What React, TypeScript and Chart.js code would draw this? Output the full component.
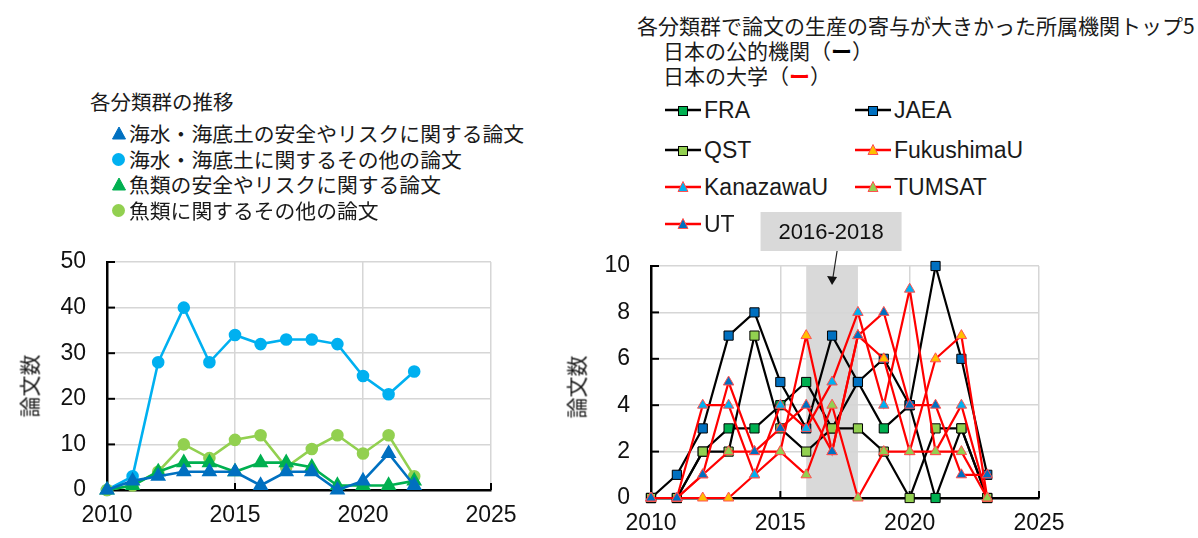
import React, { useEffect, useRef } from 'react';
import { Chart, registerables } from 'chart.js';

Chart.register(...registerables);

// ---------- Left chart data ----------
const years = [2010, 2011, 2012, 2013, 2014, 2015, 2016, 2017, 2018, 2019, 2020, 2021, 2022];
const seaRisk = [0, 2, 3, 4, 4, 4, 1, 4, 4, 0, 2, 8, 1];
const seaOther = [0, 3, 28, 40, 28, 34, 32, 33, 33, 32, 25, 21, 26];
const fishRisk = [0, 1, 4, 6, 6, 4, 6, 6, 5, 1, 1, 1, 2];
const fishOther = [0, 1, 4, 10, 7, 11, 12, 5, 9, 12, 8, 12, 3];
const leftLabels = [
  '海水・海底土の安全やリスクに関する論文',
  '海水・海底土に関するその他の論文',
  '魚類の安全やリスクに関する論文',
  '魚類に関するその他の論文',
];

// ---------- Right chart data ----------
const instYears = [2010, 2011, 2012, 2013, 2014, 2015, 2016, 2017, 2018, 2019, 2020, 2021, 2022, 2023];
const FRA = [0, 0, 2, 3, 3, 4, 5, 3, 5, 3, 4, 0, 3, 0];
const JAEA = [0, 1, 3, 7, 8, 5, 3, 7, 5, 6, 4, 10, 6, 1];
const QST = [0, 0, 2, 2, 7, 3, 2, 3, 3, 2, 0, 3, 3, 0];
const FukushimaU = [0, 0, 0, 0, 1, 2, 7, 2, 7, 6, 2, 6, 7, 0];
const KanazawaU = [0, 0, 4, 4, 1, 4, 3, 5, 8, 4, 9, 2, 4, 0];
const TUMSAT = [0, 0, 1, 2, 2, 2, 1, 4, 0, 2, 2, 2, 2, 0];
const UT = [0, 0, 1, 5, 2, 3, 4, 2, 7, 8, 4, 4, 1, 1];
const bandRange = [2016, 2018];
const bandLabel = '2016-2018';

const xTickValues = [2010, 2015, 2020, 2025];
const leftYMax = 50;
const rightYMax = 10;

const LATIN = "'Liberation Sans', Arial, sans-serif";
const CJK = "'Noto Sans CJK JP', 'Noto Sans', sans-serif";

const pts = (xs: number[], ys: number[]) => xs.map((x, i) => ({ x, y: ys[i] }));

const innerTicks = {
  id: 'innerTicks',
  beforeDatasetsDraw(chart: any) {
    const { ctx, chartArea, scales } = chart;
    ctx.save();
    ctx.strokeStyle = '#000';
    ctx.lineWidth = 2;
    scales.y.ticks.forEach((t: any) => {
      const y = scales.y.getPixelForValue(t.value);
      ctx.beginPath();
      ctx.moveTo(chartArea.left, y);
      ctx.lineTo(chartArea.left + 8, y);
      ctx.stroke();
    });
    scales.x.ticks.forEach((t: any) => {
      const x = scales.x.getPixelForValue(t.value);
      ctx.beginPath();
      ctx.moveTo(x, chartArea.bottom - 7);
      ctx.lineTo(x, chartArea.bottom);
      ctx.stroke();
    });
    ctx.restore();
  },
};

const bandPlugin = {
  id: 'band',
  beforeDraw(chart: any) {
    const { ctx, chartArea, scales } = chart;
    const x0 = scales.x.getPixelForValue(bandRange[0]);
    const x1 = scales.x.getPixelForValue(bandRange[1]);
    ctx.save();
    ctx.fillStyle = '#D9D9D9';
    ctx.fillRect(x0, chartArea.top, x1 - x0, chartArea.bottom - chartArea.top);
    ctx.restore();
  },
  afterDraw(chart: any) {
    const { ctx, chartArea, scales } = chart;
    const cx = scales.x.getPixelForValue((bandRange[0] + bandRange[1]) / 2);
    const bw = 141, bh = 39, by = 12;
    ctx.save();
    ctx.fillStyle = '#D9D9D9';
    ctx.fillRect(cx - bw / 2 - 1, by, bw, bh);
    ctx.fillStyle = '#111';
    ctx.font = `22px ${LATIN}`;
    ctx.textAlign = 'center';
    ctx.textBaseline = 'middle';
    ctx.fillText(bandLabel, cx - 1, by + bh / 2 + 1);
    const tipY = chartArea.top + 19;
    ctx.strokeStyle = '#222';
    ctx.lineWidth = 1.2;
    ctx.beginPath();
    ctx.moveTo(cx + 5, by + bh);
    ctx.lineTo(cx + 0.8, tipY - 7);
    ctx.stroke();
    ctx.fillStyle = '#111';
    ctx.beginPath();
    ctx.moveTo(cx - 5, tipY - 9);
    ctx.lineTo(cx + 5, tipY - 8);
    ctx.lineTo(cx, tipY);
    ctx.closePath();
    ctx.fill();
    ctx.restore();
  },
};

function baseScales(yMax: number, yStep: number, yWidth: number, xHeight: number, yPad: number) {
  return {
    x: {
      type: 'linear',
      min: 2010,
      max: 2025,
      afterBuildTicks: (s: any) => {
        s.ticks = xTickValues.map((v) => ({ value: v }));
      },
      ticks: {
        color: '#111',
        font: { family: LATIN, size: 23 },
        padding: 12,
        callback: (v: any) => String(v),
      },
      grid: { color: '#D6D6D6', lineWidth: 1.5, drawTicks: false },
      border: { color: '#000', width: 2.5 },
      afterFit: (s: any) => {
        s.height = xHeight;
      },
    },
    y: {
      min: 0,
      max: yMax,
      ticks: {
        stepSize: yStep,
        color: '#111',
        font: { family: LATIN, size: 23 },
        padding: yPad,
      },
      grid: { color: '#D6D6D6', lineWidth: 1.5, drawTicks: false },
      border: { color: '#000', width: 2.5 },
      afterFit: (s: any) => {
        s.width = yWidth;
      },
    },
  };
}

function TriangleIcon({ fill, size = 14 }: { fill: string; size?: number }) {
  return (
    <svg width={size} height={size} viewBox="0 0 14 14" style={{ display: 'block' }}>
      <polygon points="7,1 13.5,13 0.5,13" fill={fill} stroke={fill} strokeWidth={1} />
    </svg>
  );
}

function LegendLine({ lineColor, marker, fill, stroke }: { lineColor: string; marker: 'square' | 'triangle'; fill: string; stroke: string }) {
  return (
    <svg width={36} height={16} viewBox="0 0 36 16" style={{ display: 'block' }}>
      <line x1={0} y1={8} x2={36} y2={8} stroke={lineColor} strokeWidth={2.5} />
      {marker === 'square' ? (
        <rect x={13.5} y={4.5} width={9} height={9} fill={fill} stroke={stroke} strokeWidth={1} />
      ) : (
        <polygon points="18,2.5 23,12.5 13,12.5" fill={fill} stroke={stroke} strokeWidth={1} />
      )}
    </svg>
  );
}

const rightLegend = [
  { label: 'FRA', col: 0, row: 0, line: '#000', marker: 'square', fill: '#00B050', stroke: '#000' },
  { label: 'JAEA', col: 1, row: 0, line: '#000', marker: 'square', fill: '#0070C0', stroke: '#000' },
  { label: 'QST', col: 0, row: 1, line: '#000', marker: 'square', fill: '#92D050', stroke: '#000' },
  { label: 'FukushimaU', col: 1, row: 1, line: '#FF0000', marker: 'triangle', fill: '#FFC000', stroke: '#FF5050' },
  { label: 'KanazawaU', col: 0, row: 2, line: '#FF0000', marker: 'triangle', fill: '#00B0F0', stroke: '#FF5050' },
  { label: 'TUMSAT', col: 1, row: 2, line: '#FF0000', marker: 'triangle', fill: '#92D050', stroke: '#FF5050' },
  { label: 'UT', col: 0, row: 3, line: '#FF0000', marker: 'triangle', fill: '#0070C0', stroke: '#FF5050' },
];

export default function App() {
  const leftRef = useRef<HTMLCanvasElement>(null);
  const rightRef = useRef<HTMLCanvasElement>(null);

  useEffect(() => {
    const lds = (label: string, data: number[], color: string, style: string, r: number, order: number) => ({
      label,
      data: pts(years, data),
      borderColor: color,
      backgroundColor: color,
      pointBackgroundColor: color,
      pointBorderColor: color,
      pointStyle: style,
      pointRadius: r,
      borderWidth: 2.6,
      clip: false,
      order,
    });
    const left = new Chart(leftRef.current as HTMLCanvasElement, {
      type: 'line',
      data: {
        datasets: [
          lds(leftLabels[0], seaRisk, '#0070C0', 'triangle', 6.5, 1),
          lds(leftLabels[1], seaOther, '#00B0F0', 'circle', 5, 4),
          lds(leftLabels[2], fishRisk, '#00B050', 'triangle', 6.5, 2),
          lds(leftLabels[3], fishOther, '#92D050', 'circle', 5, 3),
        ] as any,
      },
      options: {
        animation: false,
        responsive: false,
        layout: { padding: { top: 40, right: 69, left: 0, bottom: 0 } },
        plugins: { legend: { display: false }, tooltip: { enabled: false } },
        scales: baseScales(leftYMax, 10, 107, 48, 21) as any,
      },
      plugins: [innerTicks],
    });

    const sq = (label: string, data: number[], fill: string, order: number) => ({
      label,
      data: pts(instYears, data),
      borderColor: '#000',
      backgroundColor: fill,
      pointBackgroundColor: fill,
      pointBorderColor: '#000',
      pointBorderWidth: 1,
      pointStyle: 'rect',
      pointRadius: 6.5,
      borderWidth: 2.2,
      clip: false,
      order,
    });
    const tri = (label: string, data: number[], fill: string, order: number) => ({
      label,
      data: pts(instYears, data),
      borderColor: '#FF0000',
      backgroundColor: fill,
      pointBackgroundColor: fill,
      pointBorderColor: '#FF5050',
      pointBorderWidth: 1,
      pointStyle: 'triangle',
      pointRadius: 6,
      borderWidth: 2.2,
      clip: false,
      order,
    });

    const right = new Chart(rightRef.current as HTMLCanvasElement, {
      type: 'line',
      data: {
        datasets: [
          sq('FRA', FRA, '#00B050', 7),
          sq('JAEA', JAEA, '#0070C0', 6),
          sq('QST', QST, '#92D050', 5),
          tri('FukushimaU', FukushimaU, '#FFC000', 4),
          tri('KanazawaU', KanazawaU, '#00B0F0', 3),
          tri('TUMSAT', TUMSAT, '#92D050', 2),
          tri('UT', UT, '#0070C0', 1),
        ] as any,
      },
      options: {
        animation: false,
        responsive: false,
        layout: { padding: { top: 66, right: 159, left: 0, bottom: 0 } },
        plugins: { legend: { display: false }, tooltip: { enabled: false } },
        scales: baseScales(rightYMax, 2, 91, 40, 21) as any,
      },
      plugins: [bandPlugin, innerTicks],
    });

    return () => {
      left.destroy();
      right.destroy();
    };
  }, []);

  const textColor = '#1a1a1a';

  return (
    <div style={{ position: 'absolute', left: 0, top: 0, width: 1198, height: 538, background: '#fff', overflow: 'hidden', fontFamily: CJK, color: textColor }}>
      <canvas ref={leftRef} width={560} height={316} style={{ position: 'absolute', left: 0, top: 222, width: 560, height: 316 }} />
      <canvas ref={rightRef} width={638} height={338} style={{ position: 'absolute', left: 560, top: 200, width: 638, height: 338 }} />

      {/* Left legend */}
      <div style={{ position: 'absolute', left: 90, top: 101, transform: 'translateY(-50%)', fontSize: 20.5, whiteSpace: 'nowrap', lineHeight: 1 }}>
        各分類群の推移
      </div>
      {leftLabels.map((lab, i) => {
        const colors = ['#0070C0', '#00B0F0', '#00B050', '#92D050'];
        const isTri = i === 0 || i === 2;
        const cy = 133 + i * 25.7;
        return (
          <React.Fragment key={lab}>
            <div style={{ position: 'absolute', left: 112, top: cy - 7 }}>
              {isTri ? (
                <TriangleIcon fill={colors[i]} size={14} />
              ) : (
                <div style={{ width: 13, height: 13, borderRadius: '50%', background: colors[i], marginTop: 1 }} />
              )}
            </div>
            <div style={{ position: 'absolute', left: 129, top: cy, transform: 'translateY(-50%)', fontSize: 20.8, whiteSpace: 'nowrap', lineHeight: 1 }}>
              {lab}
            </div>
          </React.Fragment>
        );
      })}

      {/* Right legend */}
      <div style={{ position: 'absolute', left: 637, top: 25, transform: 'translateY(-50%)', fontSize: 21, whiteSpace: 'nowrap', lineHeight: 1 }}>
        各分類群で論文の生産の寄与が大きかった所属機関トップ5
      </div>
      <div style={{ position: 'absolute', left: 663, top: 50, transform: 'translateY(-50%)', fontSize: 21, whiteSpace: 'nowrap', lineHeight: 1 }}>
        日本の公的機関（<span style={{ color: '#000', fontWeight: 700 }}>ー</span>）
      </div>
      <div style={{ position: 'absolute', left: 663, top: 75, transform: 'translateY(-50%)', fontSize: 21, whiteSpace: 'nowrap', lineHeight: 1 }}>
        日本の大学（<span style={{ color: '#FF0000', fontWeight: 700 }}>ー</span>）
      </div>
      {rightLegend.map((it) => {
        const cy = [110, 150, 187, 224][it.row];
        const lx = it.col === 0 ? 665 : 855;
        return (
          <React.Fragment key={it.label}>
            <div style={{ position: 'absolute', left: lx, top: cy - 8 }}>
              <LegendLine lineColor={it.line} marker={it.marker as any} fill={it.fill} stroke={it.stroke} />
            </div>
            <div style={{ position: 'absolute', left: lx + 39, top: cy, transform: 'translateY(-50%)', fontSize: 23, fontFamily: LATIN, whiteSpace: 'nowrap', lineHeight: 1 }}>
              {it.label}
            </div>
          </React.Fragment>
        );
      })}

      {/* Y axis titles */}
      <div style={{ position: 'absolute', left: 29, top: 386, transform: 'translate(-50%, -50%) rotate(-90deg)', fontSize: 21, whiteSpace: 'nowrap', lineHeight: 1 }}>
        論文数
      </div>
      <div style={{ position: 'absolute', left: 576, top: 387, transform: 'translate(-50%, -50%) rotate(-90deg)', fontSize: 21, whiteSpace: 'nowrap', lineHeight: 1 }}>
        論文数
      </div>
    </div>
  );
}
